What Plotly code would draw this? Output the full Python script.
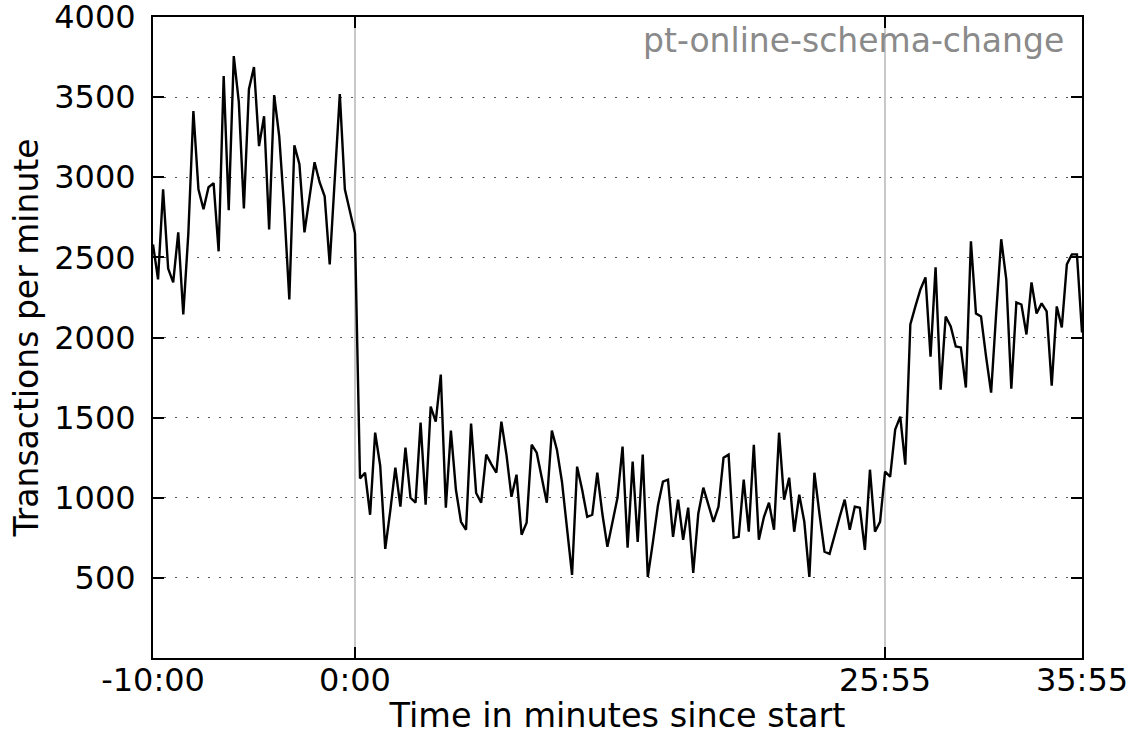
import plotly.graph_objects as go

# Throughput samples (transactions per minute), one per sample slot.
# Slot 0 = -10:00, slot 40 = 0:00 (tool start), slot 145 = 25:55 (tool end), slot 184 = 35:55.
before_change = [
    2581, 2363, 2925, 2430, 2344, 2656, 2144, 2650, 3413, 2925,
    2800, 2938, 2963, 2538, 3631, 2794, 3756, 3469, 2806, 3550,
    3688, 3194, 3381, 2675, 3513, 3256, 2800, 2238, 3200, 3081,
    2656, 2880, 3094, 2969, 2881, 2456, 2990, 3519, 2925, 2788,
    2650,
]
during_change = [
    1120, 1156, 894, 1406, 1200, 681, 920, 1188, 944, 1313,
    1000, 969, 1469, 956, 1569, 1475, 1769, 938, 1419, 1050,
    850, 800, 1463, 1030, 969, 1269, 1210, 1156, 1475, 1270,
    1006, 1144, 769, 844, 1331, 1281, 1125, 969, 1419, 1300,
    1100, 800, 519, 1194, 1050, 881, 894, 1156, 900, 694,
    850, 1000, 1319, 688, 1225, 725, 1269, 506, 720, 950,
    1100, 1113, 756, 988, 738, 938, 531, 900, 1063, 950,
    850, 944, 1250, 1269, 750, 756, 1113, 788, 1331, 738,
    880, 969, 800, 1406, 988, 1125, 788, 1019, 850, 506,
    1156, 900, 663, 650, 770, 880, 988, 800, 944, 938,
    675, 1175, 788, 850,
]
after_change = [
    1163, 1131, 1425, 1506, 1206, 2081, 2194, 2300, 2375, 1881,
    2438, 1675, 2131, 2069, 1944, 1938, 1688, 2600, 2150, 2131,
    1881, 1656, 2150, 2613, 2363, 1681, 2219, 2206, 2019, 2344,
    2150, 2213, 2163, 1700, 2194, 2063, 2456, 2519, 2519, 2031,
]

tps = before_change + during_change + after_change
slots = list(range(len(tps)))

tick_slots = [0, 40, 145, 184]
tick_labels = ["-10:00", "0:00", "25:55", "35:55"]
y_ticks = [500, 1000, 1500, 2000, 2500, 3000, 3500, 4000]

FONT = "DejaVu Sans"

fig = go.Figure()
fig.add_trace(go.Scatter(
    x=slots, y=tps, mode="lines",
    line=dict(color="black", width=2.4),
    showlegend=False, hoverinfo="skip",
))

fig.update_layout(
    width=1132, height=735,
    margin=dict(l=153, r=50, t=17, b=77),
    paper_bgcolor="white", plot_bgcolor="white",
    font=dict(family=FONT, size=32, color="black"),
    annotations=[dict(
        text="pt-online-schema-change", showarrow=False,
        xref="paper", yref="paper", x=1, y=1,
        xanchor="right", yanchor="top", xshift=-16, yshift=-2,
        font=dict(family=FONT, size=33, color="#8a8a8a"),
    )],
)

fig.update_xaxes(
    range=[0, 184], tickvals=tick_slots, ticktext=tick_labels,
    ticks="inside", ticklen=11, tickwidth=1.5, tickcolor="black",
    showline=True, linecolor="black", linewidth=2, mirror="ticks",
    showgrid=True, gridcolor="#c8c8c8", gridwidth=1.5,
    zeroline=False, automargin=False,
    ticklabelstandoff=-7, ticklabeloverflow="allow",
    tickfont=dict(family=FONT, size=32, color="black"),
    title=dict(text="Time in minutes since start", standoff=8,
               font=dict(family=FONT, size=33.5, color="black")),
)

fig.update_yaxes(
    range=[0, 4000], tickvals=y_ticks,
    ticks="inside", ticklen=11, tickwidth=1.5, tickcolor="black",
    showline=True, linecolor="black", linewidth=2, mirror="ticks",
    showgrid=True, gridcolor="#555555", gridwidth=1.3, griddash="2px,9px",
    zeroline=False, automargin=False,
    ticklabelstandoff=9, ticklabeloverflow="allow",
    tickfont=dict(family=FONT, size=32, color="black"),
    title=dict(text="Transactions per minute", standoff=6,
               font=dict(family=FONT, size=33, color="black")),
)

fig.write_html("out.html")
